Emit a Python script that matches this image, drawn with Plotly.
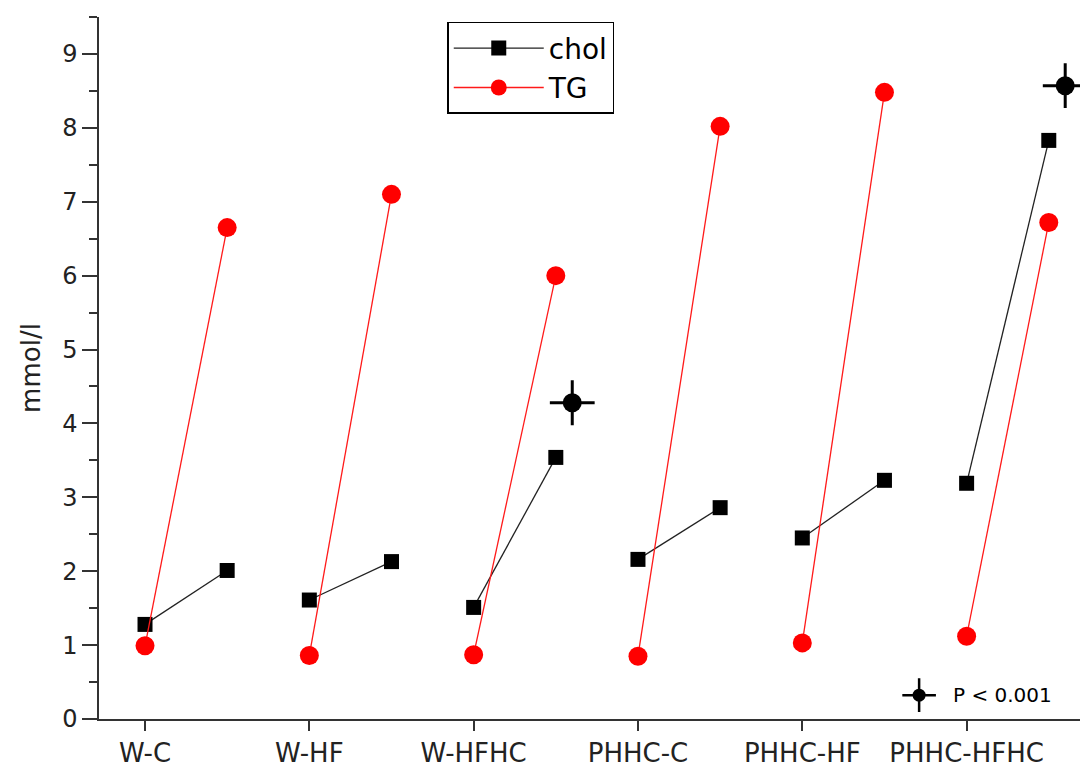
import plotly.graph_objects as go

categories = ["W-C", "W-HF", "W-HFHC", "PHHC-C", "PHHC-HF", "PHHC-HFHC"]
chol_before = [1.28, 1.61, 1.51, 2.16, 2.45, 3.19]
chol_after = [2.01, 2.13, 3.54, 2.86, 3.23, 7.83]
tg_before = [0.99, 0.86, 0.87, 0.85, 1.03, 1.12]
tg_after = [6.65, 7.10, 6.00, 8.02, 8.48, 6.72]
sig_groups = ["W-HFHC", "PHHC-HFHC"]
sig_values = [4.28, 8.57]
y_ticks = list(range(10))

OFF = 0.5
FONT = "DejaVu Sans, Arial, sans-serif"

def seg(before, after):
    xs, ys = [], []
    for i, (b, a) in enumerate(zip(before, after)):
        xs += [i, i + OFF, None]
        ys += [b, a, None]
    return xs, ys

fig = go.Figure()
tx, ty = seg(tg_before, tg_after)
cx, cy = seg(chol_before, chol_after)

fig.add_trace(go.Scatter(x=cx, y=cy, mode="lines+markers", name="chol",
                         line=dict(color="#222222", width=1.3),
                         marker=dict(symbol="square", size=15, color="black")))
fig.add_trace(go.Scatter(x=tx, y=ty, mode="lines+markers", name="TG",
                         line=dict(color="#ff1a1a", width=1.3),
                         marker=dict(symbol="circle", size=19, color="#ff0000")))

sx = [categories.index(g) + 0.6 for g in sig_groups]
fig.add_trace(go.Scatter(x=sx, y=sig_values, mode="markers", showlegend=False,
                         marker=dict(symbol="cross-thin", size=32, color="black",
                                     line=dict(color="black", width=3))))
fig.add_trace(go.Scatter(x=sx, y=sig_values, mode="markers", showlegend=False,
                         marker=dict(symbol="circle", size=19, color="black")))

# key for P < 0.001 (on a hidden 0-1 overlay axis)
key_x = [0.836]
key_y = [0.034]
fig.add_trace(go.Scatter(x=key_x, y=key_y, xaxis="x2", yaxis="y2", mode="markers", showlegend=False,
                         marker=dict(symbol="cross-thin", size=24, color="black",
                                     line=dict(color="black", width=2.5))))
fig.add_trace(go.Scatter(x=key_x, y=key_y, xaxis="x2", yaxis="y2", mode="markers", showlegend=False,
                         marker=dict(symbol="circle", size=13, color="black")))
fig.add_annotation(xref="x2", yref="y2", x=0.869, y=key_y[0], text="P < 0.001",
                   showarrow=False, xanchor="left", yanchor="middle",
                   font=dict(family=FONT, size=20, color="black"))

fig.update_layout(
    width=1080, height=769,
    margin=dict(l=99, r=0, t=17, b=50),
    paper_bgcolor="white", plot_bgcolor="white",
    font=dict(family=FONT, color="black"),
    showlegend=True,
    legend=dict(x=0.355, y=0.993, xanchor="left", yanchor="top",
                bordercolor="black", borderwidth=1.5, bgcolor="white",
                font=dict(family=FONT, size=28, color="black"),
                itemwidth=90, tracegroupgap=0),
    xaxis=dict(range=[-0.28, 5.69], tickmode="array", tickvals=list(range(len(categories))),
               ticktext=categories, showline=True, linecolor="#333333", linewidth=1.5,
               ticks="outside", ticklen=10, tickwidth=1.5, tickcolor="#333333",
               showgrid=False, zeroline=False,
               tickfont=dict(family=FONT, size=26, color="#222222")),
    yaxis=dict(range=[0, 9.5], tickvals=y_ticks, showline=True, linecolor="#333333", linewidth=1.5,
               ticks="outside", ticklen=15, tickwidth=1.5, tickcolor="#333333",
               showgrid=False, zeroline=False,
               minor=dict(dtick=0.5, ticks="outside", ticklen=8, tickwidth=1.5, tickcolor="#333333"),
               tickfont=dict(family=FONT, size=24, color="#222222"),
               title=dict(text="mmol/l", font=dict(family=FONT, size=26, color="#222222"), standoff=14)),
    xaxis2=dict(range=[0, 1], overlaying="x", visible=False),
    yaxis2=dict(range=[0, 1], overlaying="y", visible=False),
)

fig.write_html("out.html")
